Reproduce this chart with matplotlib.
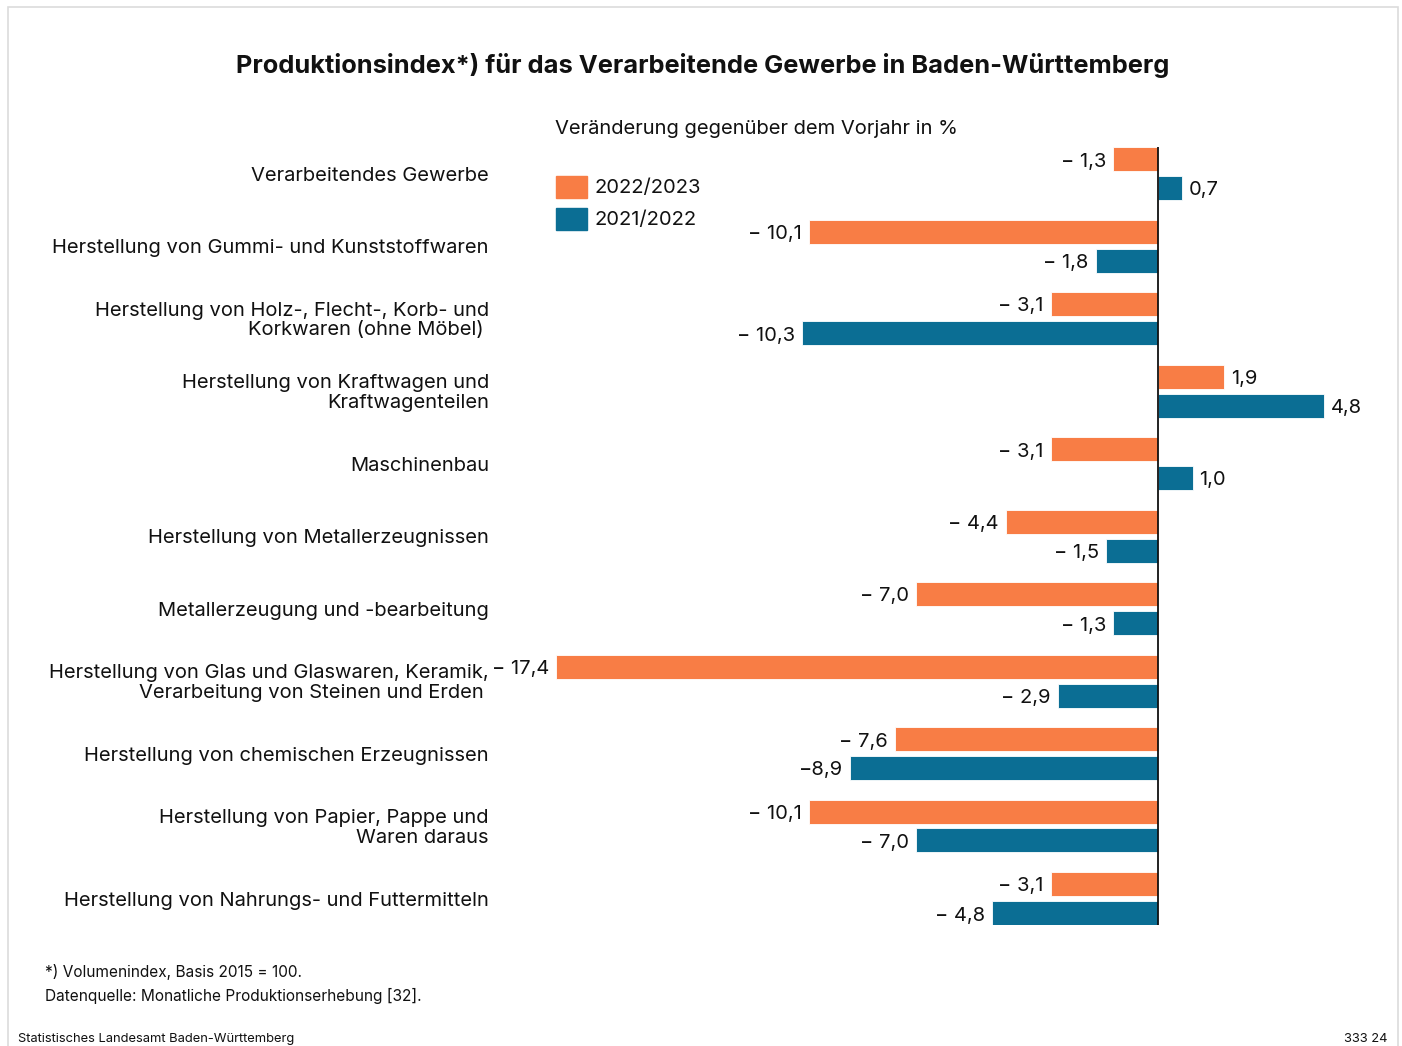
#!/usr/bin/env python3
"""Produktionsindex Verarbeitendes Gewerbe Baden-Württemberg, horizontal bars."""

import matplotlib

matplotlib.use("Agg")
import matplotlib.pyplot as plt
import numpy as np
from matplotlib.patches import Rectangle

plt.rcParams["font.family"] = ["Inter", "DejaVu Sans"]

CATEGORIES = [
    "Verarbeitendes Gewerbe",
    "Herstellung von Gummi- und Kunststoffwaren",
    "Herstellung von Holz-, Flecht-, Korb- und\nKorkwaren (ohne Möbel) ",
    "Herstellung von Kraftwagen und\nKraftwagenteilen",
    "Maschinenbau",
    "Herstellung von Metallerzeugnissen",
    "Metallerzeugung und -bearbeitung",
    "Herstellung von Glas und Glaswaren, Keramik,\nVerarbeitung von Steinen und Erden ",
    "Herstellung von chemischen Erzeugnissen",
    "Herstellung von Papier, Pappe und\nWaren daraus",
    "Herstellung von Nahrungs- und Futtermitteln",
]
VALUES_2023 = [-1.3, -10.1, -3.1, 1.9, -3.1, -4.4, -7.0, -17.4, -7.6, -10.1, -3.1]
VALUES_2022 = [0.7, -1.8, -10.3, 4.8, 1.0, -1.5, -1.3, -2.9, -8.9, -7.0, -4.8]
SERIES_LABELS = ["2022/2023", "2021/2022"]

ORANGE = "#F87D45"
BLUE = "#0B6E94"
W, H = 1402, 1046
FS = 14.5


def fx(px):
    return px / W


def fy(py):
    return 1 - py / H


def fmt(v, tight=False):
    s = f"{abs(v):.1f}".replace(".", ",")
    if v < 0:
        return ("\u2212" if tight else "\u2212 ") + s
    return s


def main():
    fig = plt.figure(figsize=(W / 100, H / 100), dpi=100)
    fig.patches.append(
        Rectangle((fx(8), fy(1060)), fx(1390), 1060 / H - 8 / H + 0.001,
                  transform=fig.transFigure, fill=False, edgecolor="#dcdcdc", lw=1.2)
    )

    # axes: x=-17.4 at px 556, zero at px 1158 (34.6 px per unit)
    left_px, right_px = 556, 1390
    top_px, bot_px = 147, 925
    ax = fig.add_axes([fx(left_px), fy(bot_px), fx(right_px - left_px), (bot_px - top_px) / H])
    scale = (1158 - 556) / 17.4
    ax.set_xlim(-17.4, (right_px - 1158) / scale)
    pad = 26.5 / 72.5
    ax.set_ylim(len(CATEGORIES) - 1 + pad, -pad)
    ax.axis("off")

    y = np.arange(len(CATEGORIES))
    off, h = 0.2, 24 / 72.5
    ax.barh(y - off, VALUES_2023, height=h, color=ORANGE, edgecolor="white", lw=0.6)
    ax.barh(y + off, VALUES_2022, height=h, color=BLUE, edgecolor="white", lw=0.6)
    ax.axvline(0, color="#111111", lw=1.3)

    for yy, v23, v22 in zip(y, VALUES_2023, VALUES_2022):
        for v, yp in ((v23, yy - off), (v22, yy + off)):
            tight = v == -8.9
            ax.annotate(fmt(v, tight), (v, yp), xytext=(-5 if v < 0 else 5, -1.8),
                        textcoords="offset points", ha="right" if v < 0 else "left",
                        va="center", fontsize=FS, color="#111111")

    for i, cat in enumerate(CATEGORIES):
        ax.annotate(cat, (0, i), xycoords=("figure fraction", "data"),
                    xytext=(fx(489) * W * 0.72, -1.5), textcoords="offset points",
                    ha="right", va="center", fontsize=FS, color="#111111",
                    linespacing=1.1)

    fig.text(fx(703), fy(65), "Produktionsindex*) für das Verarbeitende Gewerbe in Baden-Württemberg",
             ha="center", va="center", fontsize=18.3, fontweight="bold", color="#111111")
    fig.text(fx(555), fy(129), "Veränderung gegenüber dem Vorjahr in %", ha="left",
             va="center", fontsize=FS, color="#111111")

    for i, (lab, col) in enumerate(zip(SERIES_LABELS, [ORANGE, BLUE])):
        yc = 187 + 32 * i
        fig.patches.append(Rectangle((fx(556), fy(yc + 11)), fx(31), 22 / H,
                                     transform=fig.transFigure, color=col))
        fig.text(fx(594), fy(yc + 1), lab, ha="left", va="center", fontsize=FS, color="#111111")

    fig.text(fx(45), fy(972), "*) Volumenindex, Basis 2015 = 100.", ha="left", va="center",
             fontsize=11.1, color="#111111")
    fig.text(fx(45), fy(996), "Datenquelle: Monatliche Produktionserhebung [32].", ha="left",
             va="center", fontsize=11.1, color="#111111")
    fig.text(fx(18), fy(1039), "Statistisches Landesamt Baden-Württemberg", ha="left",
             va="center", fontsize=9.3, color="#111111")
    fig.text(fx(1388), fy(1039), "333 24", ha="right", va="center", fontsize=9.3, color="#111111")

    fig.savefig("out.png", dpi=100, facecolor="white")


if __name__ == "__main__":
    main()
